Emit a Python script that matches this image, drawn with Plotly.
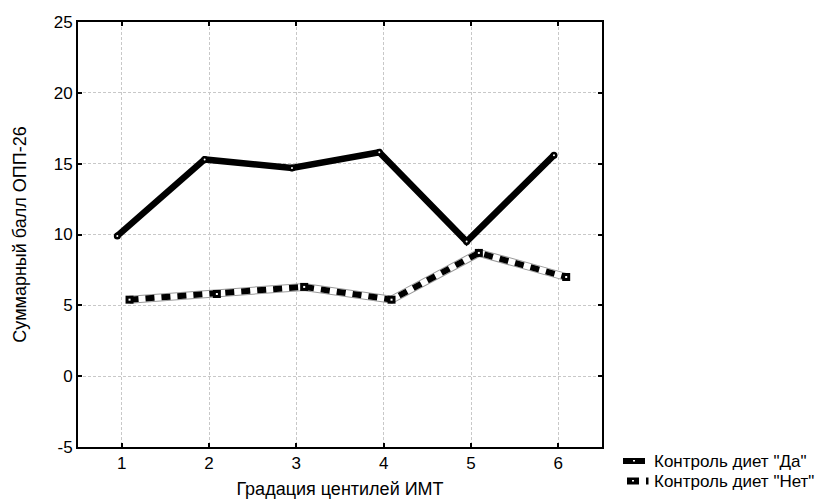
import plotly.graph_objects as go

# Градации центилей ИМТ и средние баллы ОПП-26 по группам
categories = [1, 2, 3, 4, 5, 6]
yes_values = [9.9, 15.3, 14.7, 15.8, 9.5, 15.6]   # Контроль диет "Да"
no_values = [5.4, 5.8, 6.3, 5.4, 8.7, 7.0]        # Контроль диет "Нет"
y_ticks = [-5, 0, 5, 10, 15, 20, 25]
series_names = ['Контроль диет "Да"', 'Контроль диет "Нет"']

# small horizontal shift of each group so the two series do not overlap
yes_x = [c - 0.05 for c in categories]
no_x = [c + 0.09 for c in categories]

FONT = "Liberation Sans, Arial, sans-serif"

fig = go.Figure()

# "Да": thick solid black line with small round markers
fig.add_trace(go.Scatter(
    x=yes_x, y=yes_values, mode="lines+markers", name=series_names[0],
    line=dict(color="black", width=6.5),
    marker=dict(symbol="circle", size=7, color="black"),
))
fig.add_trace(go.Scatter(
    x=yes_x, y=yes_values, mode="markers", hoverinfo="skip",
    marker=dict(symbol="circle", size=2, color="white"),
))

# "Нет": thick dashed line on a white band with a thin grey edge
fig.add_trace(go.Scatter(
    x=no_x, y=no_values, mode="lines", hoverinfo="skip",
    line=dict(color="#9a9a9a", width=8),
))
fig.add_trace(go.Scatter(
    x=no_x, y=no_values, mode="lines", hoverinfo="skip",
    line=dict(color="white", width=6),
))
fig.add_trace(go.Scatter(
    x=no_x, y=no_values, mode="lines+markers", name=series_names[1],
    line=dict(color="black", width=6, dash="9px,7px"),
    marker=dict(symbol="square", size=8, color="black"),
))
fig.add_trace(go.Scatter(
    x=no_x, y=no_values, mode="markers", hoverinfo="skip",
    marker=dict(symbol="square", size=2, color="white"),
))

axis_common = dict(
    showline=True, linecolor="black", linewidth=2, mirror="ticks",
    ticks="inside", ticklen=4, tickwidth=1.5, tickcolor="black",
    showgrid=True, gridcolor="#c8c8c8", gridwidth=1, griddash="3px,2px",
    zeroline=False,
    tickfont=dict(family=FONT, size=17, color="black"),
    title_font=dict(family=FONT, size=18, color="black"),
)

fig.update_xaxes(
    range=[0.5, 6.5], tickmode="array", tickvals=categories,
    ticktext=[str(c) for c in categories],
    title_text="Градация центилей ИМТ", title_standoff=10,
    **axis_common,
)
fig.update_yaxes(
    range=[-5, 25], tickmode="array", tickvals=y_ticks,
    ticktext=[str(v) for v in y_ticks],
    title_text="Суммарный балл ОПП-26", title_standoff=22,
    **axis_common,
)

# Legend drawn below-right of the plot: compact key symbols and labels
W, H = 524.0, 425.0          # plot area size in px


def px_x(px):
    return (px - 78) / W


def px_y(py):
    return (447 - py) / H


rows_y = [461, 481]
shapes = [
    # "Да" key: solid black bar with a white dot
    dict(type="rect", xref="paper", yref="paper",
         x0=px_x(623), x1=px_x(645), y0=px_y(rows_y[0] + 3), y1=px_y(rows_y[0] - 3),
         fillcolor="black", line=dict(width=0)),
    dict(type="rect", xref="paper", yref="paper",
         x0=px_x(633), x1=px_x(635), y0=px_y(rows_y[0] + 0.5), y1=px_y(rows_y[0] - 1),
         fillcolor="white", line=dict(width=0)),
    # "Нет" key: black block, white dot, short dash
    dict(type="rect", xref="paper", yref="paper",
         x0=px_x(627), x1=px_x(639), y0=px_y(rows_y[1] + 3.5), y1=px_y(rows_y[1] - 3.5),
         fillcolor="black", line=dict(width=0)),
    dict(type="rect", xref="paper", yref="paper",
         x0=px_x(632), x1=px_x(634), y0=px_y(rows_y[1] + 0.5), y1=px_y(rows_y[1] - 1),
         fillcolor="white", line=dict(width=0)),
    dict(type="rect", xref="paper", yref="paper",
         x0=px_x(646), x1=px_x(648.5), y0=px_y(rows_y[1] + 3.5), y1=px_y(rows_y[1] - 3.5),
         fillcolor="black", line=dict(width=0)),
]
annotations = [
    dict(text=name, xref="paper", yref="paper", x=px_x(652), y=px_y(ry),
         xanchor="left", yanchor="middle", showarrow=False,
         font=dict(family=FONT, size=17, color="black"))
    for name, ry in zip(series_names, rows_y)
]

fig.update_layout(
    width=832, height=500,
    margin=dict(l=78, r=230, t=22, b=53, autoexpand=False),
    paper_bgcolor="white", plot_bgcolor="white",
    font=dict(family=FONT, size=17, color="black"),
    showlegend=False,
    shapes=shapes,
    annotations=annotations,
)

fig.write_html("out.html")
